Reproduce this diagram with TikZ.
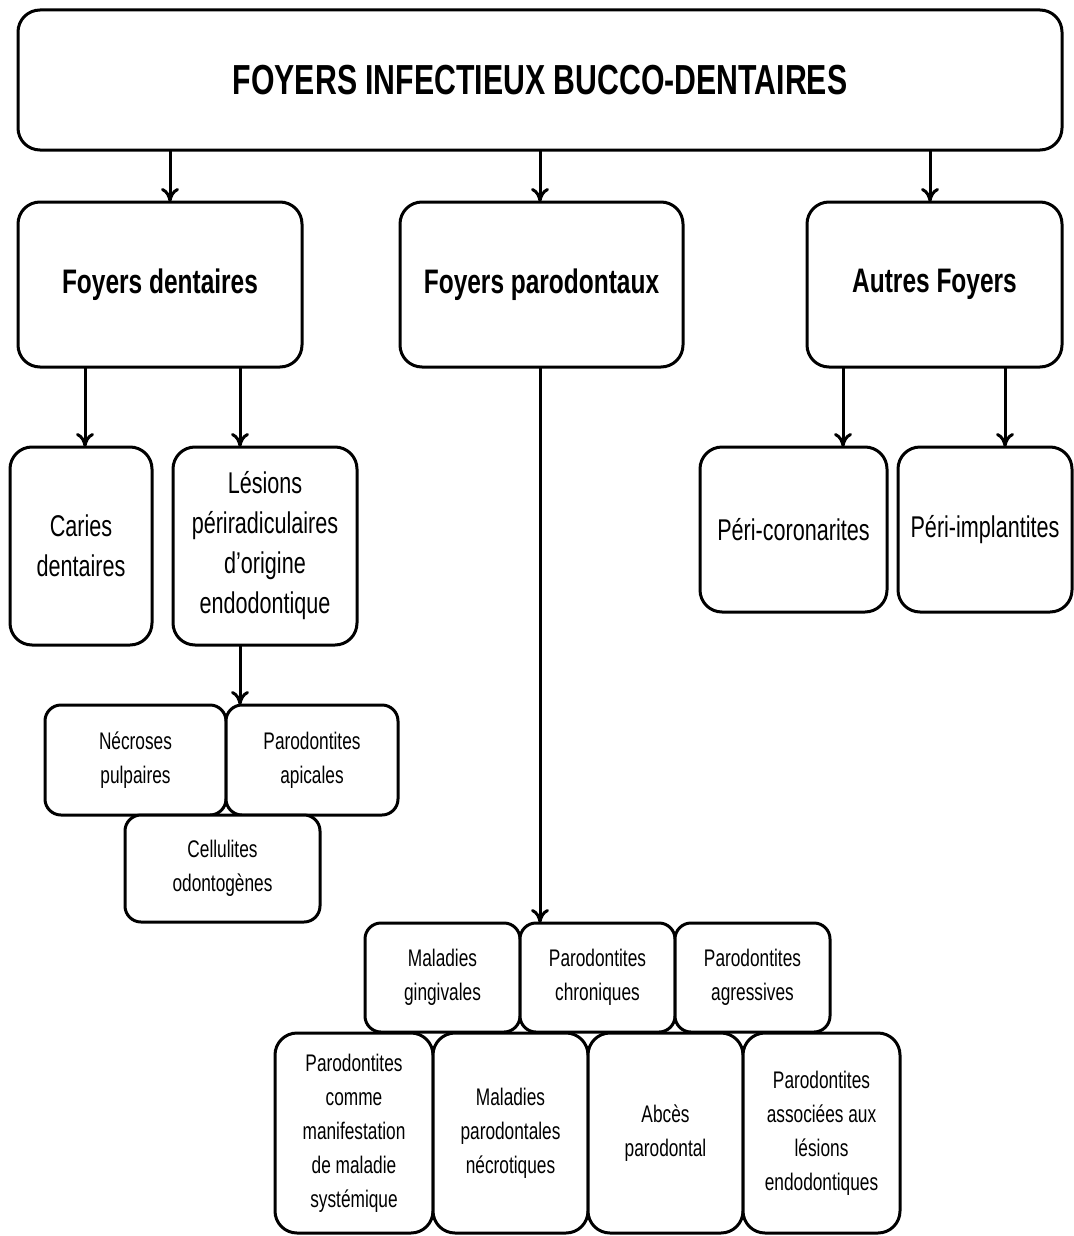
\documentclass[tikz,border=0pt]{standalone}
\usepackage{fontspec}
\setmainfont[FakeStretch=0.72]{Liberation Sans}
\usetikzlibrary{arrows.meta}
\begin{document}
\begin{tikzpicture}[x=0.5pt,y=-0.5pt,
  bx/.style={draw=black,line width=1.5pt,rounded corners=11pt,inner sep=0pt,outer sep=0pt,align=center,fill=white},
  sbx/.style={bx,rounded corners=8pt},
  arr/.style={line width=1.5pt,-{To[length=7pt,width=9pt,line width=1.5pt]}},
  ttl/.style={font=\fontsize{21}{24}\selectfont\bfseries},
  lv2/.style={font=\fontsize{17}{20}\selectfont\bfseries},
  lv3/.style={font=\fontsize{15}{20}\selectfont},
  lv4/.style={font=\fontsize{12}{17}\selectfont}]
\useasboundingbox[fill=white] (0,0) rectangle (1074,1236);
\node[bx,ttl,minimum width=522pt,minimum height=70pt] (top) at (540,80) {FOYERS INFECTIEUX BUCCO-DENTAIRES};
\node[bx,lv2,minimum width=142pt,minimum height=82.5pt] (FD) at (160,284.5) {Foyers dentaires};
\node[bx,lv2,minimum width=141.5pt,minimum height=82.5pt] (FP) at (541.5,284.5) {Foyers parodontaux};
\node[bx,lv2,minimum width=127.5pt,minimum height=82.5pt] (AF) at (934.5,284.5) {Autres Foyers};
\node[bx,lv3,minimum width=71pt,minimum height=99pt] (CD) at (81,546) {Caries\\dentaires};
\node[bx,lv3,minimum width=92pt,minimum height=99pt] (LP) at (265,546) {Lésions\\périradiculaires\\d’origine\\endodontique};
\node[bx,lv3,minimum width=93.5pt,minimum height=82.5pt] (PC) at (793.5,529.5) {Péri-coronarites};
\node[bx,lv3,minimum width=87pt,minimum height=82.5pt] (PI) at (985,529.5) {Péri-implantites};
\node[sbx,lv4,minimum width=90.5pt,minimum height=55pt] (NP) at (135.5,760) {Nécroses\\pulpaires};
\node[sbx,lv4,minimum width=86pt,minimum height=55pt] (PA) at (312,760) {Parodontites\\apicales};
\node[sbx,lv4,minimum width=97.5pt,minimum height=53.5pt] (CO) at (222.5,868.5) {Cellulites\\odontogènes};
\node[sbx,lv4,minimum width=77.5pt,minimum height=54.5pt] (MG) at (442.5,977.5) {Maladies\\gingivales};
\node[sbx,lv4,minimum width=77.5pt,minimum height=54.5pt] (PCh) at (597.5,977.5) {Parodontites\\chroniques};
\node[sbx,lv4,minimum width=77.5pt,minimum height=54.5pt] (PAg) at (752.5,977.5) {Parodontites\\agressives};
\node[bx,lv4,minimum width=79pt,minimum height=100pt] (PS) at (354,1133) {Parodontites\\comme\\manifestation\\de maladie\\systémique};
\node[bx,lv4,minimum width=77.5pt,minimum height=100pt] (MN) at (510.5,1133) {Maladies\\parodontales\\nécrotiques};
\node[bx,lv4,minimum width=77.5pt,minimum height=100pt] (AP) at (665.5,1133) {Abcès\\parodontal};
\node[bx,lv4,minimum width=78.5pt,minimum height=100pt] (PE) at (821.5,1133) {Parodontites\\associées aux\\lésions\\endodontiques};
\draw[arr] (top.south -| 170,0) -- (FD.north -| 170,0);
\draw[arr] (top.south -| 540,0) -- (FP.north -| 540,0);
\draw[arr] (top.south -| 930,0) -- (AF.north -| 930,0);
\draw[arr] (FD.south -| 85,0) -- (CD.north -| 85,0);
\draw[arr] (FD.south -| 240,0) -- (LP.north -| 240,0);
\draw[arr] (LP.south -| 240,0) -- (PA.north -| 240,0);
\draw[arr] (FP.south -| 540,0) -- (PCh.north -| 540,0);
\draw[arr] (AF.south -| 843,0) -- (PC.north -| 843,0);
\draw[arr] (AF.south -| 1005,0) -- (PI.north -| 1005,0);
\end{tikzpicture}
\end{document}
